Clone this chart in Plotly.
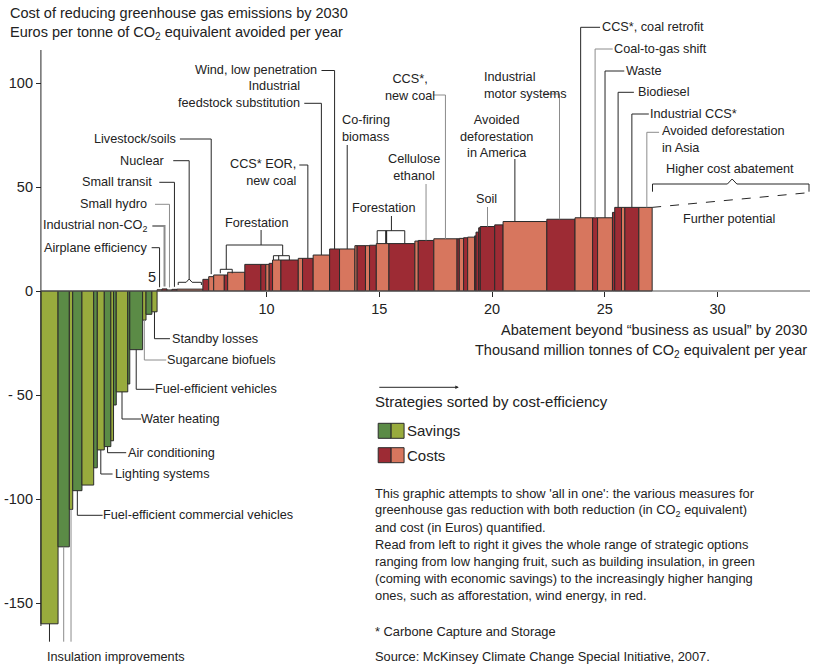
import numpy as np
import plotly.graph_objects as go

# ---------------- data (Gt CO2e abatement width, EUR/t cost) ----------------
saving_widths = [0.76, 0.50, 0.15, 0.41, 0.52, 0.16, 0.31, 0.29, 0.12, 0.12, 0.51, 0.09, 0.57, 0.15, 0.26, 0.23]
saving_costs = [-160, -123, -105, -96, -93.3, -85, -76.4, -74.8, -72, -54.8, -48.5, -44.7, -28.2, -14, -11.2, -10]
saving_shade = ["L", "D", "L", "D", "L", "D", "L", "D", "L", "D", "L", "D", "D", "L", "D", "L"]

small_widths = [0.22, 0.22, 0.22, 0.22, 1.15]
small_costs = [0.6, 1.0, 0.5, 0.8, 0.9]
small_shade = ["S", "D", "S", "D", "S"]

cost_widths = [0.26, 0.22, 0.47, 0.15, 0.76, 0.71, 0.22, 0.15, 0.15, 0.37, 0.77, 0.19, 0.47, 0.73, 0.44,
               0.68, 0.10, 0.37, 0.18, 0.30, 0.56, 1.15, 0.15, 0.69, 1.03, 0.10, 0.19, 0.18, 0.31, 0.06,
               0.12, 0.07, 0.64, 0.37, 1.94, 1.25, 0.78, 0.22, 0.66, 0.10, 0.30, 0.15, 0.62, 0.59]
cost_costs = [5.6, 6.9, 7.7, 7.7, 9.0, 12.8, 12.8, 12.8, 13.3, 14.9, 14.9, 15.7, 15.7, 17.3, 20.2,
              20.2, 21.8, 21.8, 21.8, 22.0, 22.8, 22.8, 24.0, 24.3, 25.1, 25.1, 25.3, 25.6, 25.9, 26.5,
              28.3, 30.4, 31.0, 31.8, 33.4, 34.5, 35.2, 35.2, 35.2, 37.8, 40.2, 40.2, 40.2, 40.2]
cost_shade = ["D", "S", "S", "D", "S", "D", "D", "S", "D", "S", "D", "S", "D", "S", "D",
              "S", "S", "D", "S", "D", "S", "D", "S", "D", "S", "D", "S", "D", "S", "D",
              "D", "D", "D", "D", "S", "D", "S", "D", "S", "D", "D", "S", "D", "S"]

further_end_x = 34.05
further_end_cost = 47.3

x_ticks = [10, 15, 20, 25, 30]
y_ticks = [100, 50, 0, -50, -100, -150]
y_tick_text = ["100", "50", "0", "- 50", "-100", "-150"]

# ---------------- derived bar geometry ----------------
widths = np.array(saving_widths + small_widths + cost_widths, dtype=float)
costs = np.array(saving_costs + small_costs + cost_costs, dtype=float)
keys = ["G" + s for s in saving_shade] + ["R" + s for s in small_shade + cost_shade]
COL = {"GL": "#98ab3d", "GD": "#5b8b46", "RS": "#d7765e", "RD": "#9d2b34"}
fills = [COL[k] for k in keys]
edges = np.concatenate([[0.0], np.cumsum(widths)])
centers = edges[:-1] + widths / 2


def bx(i, frac=0.5):
    return edges[i] + frac * widths[i]


def by(i):
    return costs[i]


# ---------------- layout geometry ----------------
W, H = 814, 665
ML, MR, MT, MB = 20, 4, 10, 5
X0, SX = 37.0, 22.67
Y0, SY = 291.0, 2.08


def X(px):
    return (px - X0) / SX


def Y(py):
    return (Y0 - py) / SY


def PX(px):
    return (px - ML) / (W - ML - MR)


def PY(py):
    return (H - MB - py) / (H - MT - MB)


FONT = "Liberation Sans, Arial, sans-serif"
TXT = "#222222"
DARK = "#262626"
GRAY = "#8c8c8c"

shapes = []
anns = []


def poly(pts, color=DARK, width=1, dash=None):
    path = "M " + " L ".join(f"{x:.4f},{y:.4f}" for x, y in pts)
    ln = dict(color=color, width=width)
    if dash:
        ln["dash"] = dash
    shapes.append(dict(type="path", xref="x", yref="y", path=path, line=ln, layer="above"))


def ppoly(pts, color=DARK, width=1):
    """polyline given in pixel coordinates, placed in data space"""
    poly([(X(a), Y(b)) for a, b in pts], color, width)


PAD = {"left": -4.0, "right": 1.0, "center": -1.0}


def text(px, py, s, anchor="left", size=12.7, align=None):
    anns.append(dict(xref="paper", yref="paper", x=PX(px + PAD[anchor]), y=PY(py), text=s,
                     showarrow=False, xanchor=anchor, yanchor="middle", align=align or anchor,
                     font=dict(size=size, color=TXT, family=FONT)))


# --- savings labels (vertical from bar bottom, then horizontal right) ---
neg_labels = [
    (15, 338.7, 166.7, 171.0, "Standby losses", DARK),
    (13, 360.0, 163.0, 165.7, "Sugarcane biofuels", GRAY),
    (12, 389.3, 151.0, 153.3, "Fuel-efficient vehicles", DARK),
    (10, 419.0, 137.7, 140.0, "Water heating", DARK),
    (7, 452.7, 122.7, 127.0, "Air conditioning", DARK),
    (6, 474.0, 109.0, 113.5, "Lighting systems", DARK),
    (3, 515.3, 99.0, 101.7, "Fuel-efficient commercial vehicles", DARK),
]
for i, py, pxe, tx, s, c in neg_labels:
    poly([(bx(i), by(i)), (bx(i), Y(py)), (X(pxe), Y(py))], c)
    text(tx, py, s)
for i, c in [(0, DARK), (1, GRAY), (2, GRAY)]:
    poly([(bx(i), by(i)), (bx(i), Y(641.7))], c)
text(45, 657, "Insulation improvements")

# --- small measures around zero (horizontal from label, then down to bar) ---
small_labels = [
    (16, 247.7, 148.3, 144.3, "Airplane efficiency", DARK, 1),
    (17, 226.0, 149.0, 145.0, "Industrial non-CO<sub>2</sub>", GRAY, 2),
    (18, 204.3, 151.7, 145.0, "Small hydro", GRAY, 1),
    (19, 182.3, 156.0, 150.0, "Small transit", DARK, 1),
    (22, 139.0, 176.7, 173.3, "Livestock/soils", DARK, 1),
]
for i, py, pxs, tx, s, c, lw in small_labels:
    poly([(X(pxs), Y(py)), (bx(i), Y(py)), (bx(i), by(i) + 1.2)], c, lw)
    text(tx, py, s, anchor="right")
# Nuclear with bracket
ppoly([(170, 160.7), (186, 160.7), (186, 279)])
ppoly([(175, 285), (175, 282.3), (183, 282.3), (186, 279), (189, 282.3), (198.3, 282.3), (198.3, 285)])
text(161.7, 160.7, "Nuclear", anchor="right")
text(150, 277, "5", anchor="center", size=14.5)

# --- cost labels above bars ---
top_lines = [
    (35, 0.5, 319.0, 70.5, DARK),     # wind
    (34, 0.5, 301.7, 103.3, DARK),    # feedstock
    (33, 0.5, 296.7, 165.0, DARK),    # CCS EOR
    (45, 0.5, 431.0, 95.0, GRAY),     # CCS new coal
    (56, 0.45, 542.0, 94.0, GRAY),    # motor systems
    (57, 0.32, 599.0, 27.3, DARK),    # coal retrofit
    (58, 0.5, 611.7, 49.0, GRAY),     # coal-to-gas
    (59, 0.5, 623.3, 71.0, DARK),     # waste
    (61, 0.5, 633.0, 92.3, DARK),     # biodiesel
    (63, 0.5, 648.0, 114.0, DARK),    # industrial CCS
    (64, 0.6, 658.3, 132.3, GRAY),    # Asia
]
for i, f, pxs, py, c in top_lines:
    poly([(X(pxs), Y(py)), (bx(i, f), Y(py)), (bx(i, f), by(i))], c)
drops = [
    (36, 0.5, 145.0, DARK),   # co-firing
    (44, 0.5, 184.0, GRAY),   # cellulose
    (55, 0.27, 159.0, DARK),  # America
    (53, 0.5, 207.0, GRAY),   # soil
]
for i, f, py, c in drops:
    poly([(bx(i, f), Y(py)), (bx(i, f), by(i))], c)

text(316, 70.5, "Wind, low penetration", anchor="right")
text(298.3, 95, "Industrial<br>feedstock substitution", anchor="right")
text(294.5, 173, "CCS* EOR,<br>new coal", anchor="right")
text(342, 128.5, "Co-firing<br>biomass", anchor="left")
text(408.5, 87, "CCS*,<br>new coal", anchor="center")
text(412.5, 167, "Cellulose<br>ethanol", anchor="center")
text(484, 86, "Industrial<br>motor systems", anchor="left")
text(495.5, 136.5, "Avoided<br>deforestation<br>in America", anchor="center")
text(485.5, 199, "Soil", anchor="center")
text(602.7, 27.3, "CCS*, coal retrofit")
text(615, 49, "Coal-to-gas shift")
text(626.7, 71, "Waste")
text(639, 92.3, "Biodiesel")
text(650.7, 114, "Industrial CCS*")
text(663.3, 139.5, "Avoided deforestation<br>in Asia")

# Forestation brackets
ppoly([(258.3, 230), (258.3, 245)])
ppoly([(223.3, 269.3), (223.3, 245), (280, 245), (280, 255.7)])
ppoly([(217.3, 273.3), (217.3, 269.3), (229.3, 269.3), (229.3, 273.3)])
ppoly([(270.7, 260), (270.7, 255.7), (286.7, 255.7), (286.7, 260)])
ppoly([(276, 255.7), (276, 260)])
text(254.3, 222.7, "Forestation", anchor="center")
ppoly([(389.3, 216), (389.3, 230.7)])
ppoly([(375, 243.3), (375, 230.7), (402.7, 230.7), (402.7, 243.3)])
ppoly([(384, 230.7), (384, 243.3)], DARK, 2)
text(382.7, 208.3, "Forestation", anchor="center")

# Higher cost abatement bracket
ppoly([(651.7, 191.7), (651.7, 184), (727, 184), (731.7, 179), (736.5, 184), (809, 184), (809, 191.7)])
text(730.5, 169, "Higher cost abatement", anchor="center")
text(730, 219, "Further potential", anchor="center")

# axis lines
poly([(0, Y(50)), (0, Y(626))], DARK)
poly([(0, 0), (X(810), 0)], "#555555")

# axis titles
text(808, 330, "Abatement beyond \u201cbusiness as usual\u201d by 2030", anchor="right", size=14.5)
text(808, 351, "Thousand million tonnes of CO<sub>2</sub> equivalent per year", anchor="right", size=14.5)

# chart title
text(8, 13.3, "Cost of reducing greenhouse gas emissions by 2030", size=14.5)
text(8, 33.3, "Euros per tonne of CO<sub>2</sub> equivalent avoided per year", size=14.5)

# legend block
anns.append(dict(xref="paper", yref="paper", x=PX(457), y=PY(387.3), ax=-81, ay=0, text="",
                 showarrow=True, arrowhead=2, arrowsize=0.7, arrowwidth=1, arrowcolor=DARK))
text(375, 401.7, "Strategies sorted by cost-efficiency", size=15)
for (y0, y1, ca, cb, lab) in [(423.3, 438.3, COL["GD"], COL["GL"], "Savings"),
                             (447.7, 462.7, COL["RD"], COL["RS"], "Costs")]:
    for (x0, x1, c) in [(376, 389, ca), (389, 402, cb)]:
        shapes.append(dict(type="rect", xref="paper", yref="paper", x0=PX(x0), x1=PX(x1),
                           y0=PY(y1), y1=PY(y0), fillcolor=c, line=dict(color="#2a2a2a", width=1)))
    text(407, (y0 + y1) / 2, lab, size=15)

para = [
    "This graphic attempts to show 'all in one': the various measures for",
    "greenhouse gas reduction with both reduction (in CO<sub>2</sub> equivalent)",
    "and cost (in Euros) quantified.",
    "Read from left to right it gives the whole range of strategic options",
    "ranging from low hanging fruit, such as building insulation, in green",
    "(coming with economic savings) to the increasingly higher hanging",
    "ones, such as afforestation, wind energy, in red.",
]
for k, line in enumerate(para):
    text(375, 493.3 + k * 16.95, line, size=12.85)
text(375, 631.7, "* Carbone Capture and Storage", size=12.85)
text(375, 656, "Source: McKinsey Climate Change Special Initiative, 2007.", size=12.85)

# ---------------- figure ----------------
fig = go.Figure()
fig.add_trace(go.Bar(x=centers, y=costs, width=widths,
                     marker=dict(color=fills, line=dict(color="#2a2a2a", width=1)),
                     hoverinfo="skip"))
fig.add_trace(go.Scatter(x=[edges[-1], further_end_x], y=[costs[-1], further_end_cost],
                         mode="lines", line=dict(color=DARK, width=1, dash="dash"),
                         hoverinfo="skip"))

fig.update_layout(
    width=W, height=H,
    margin=dict(l=ML, r=MR, t=MT, b=MB),
    paper_bgcolor="white", plot_bgcolor="white",
    showlegend=False,
    font=dict(family=FONT, color=TXT),
    xaxis=dict(range=[X(ML), X(W - MR)], anchor="free", position=PY(Y0),
               tickvals=x_ticks, ticks="outside", ticklen=5, tickcolor=DARK,
               showline=False, showgrid=False, zeroline=False,
               tickfont=dict(size=14.5, color=TXT, family=FONT)),
    yaxis=dict(range=[Y(H - MB), Y(MT)], anchor="free", position=PX(X0),
               tickvals=y_ticks, ticktext=y_tick_text, ticks="outside", ticklen=5,
               tickcolor=DARK, showline=False, showgrid=False, zeroline=False,
               tickfont=dict(size=14.5, color=TXT, family=FONT)),
    shapes=shapes,
    annotations=anns,
)

fig.write_html("out.html",
               config={"displayModeBar": False},
               post_script="document.body.style.margin='0';document.body.style.padding='0';"
                           "document.documentElement.style.overflow='hidden';")
